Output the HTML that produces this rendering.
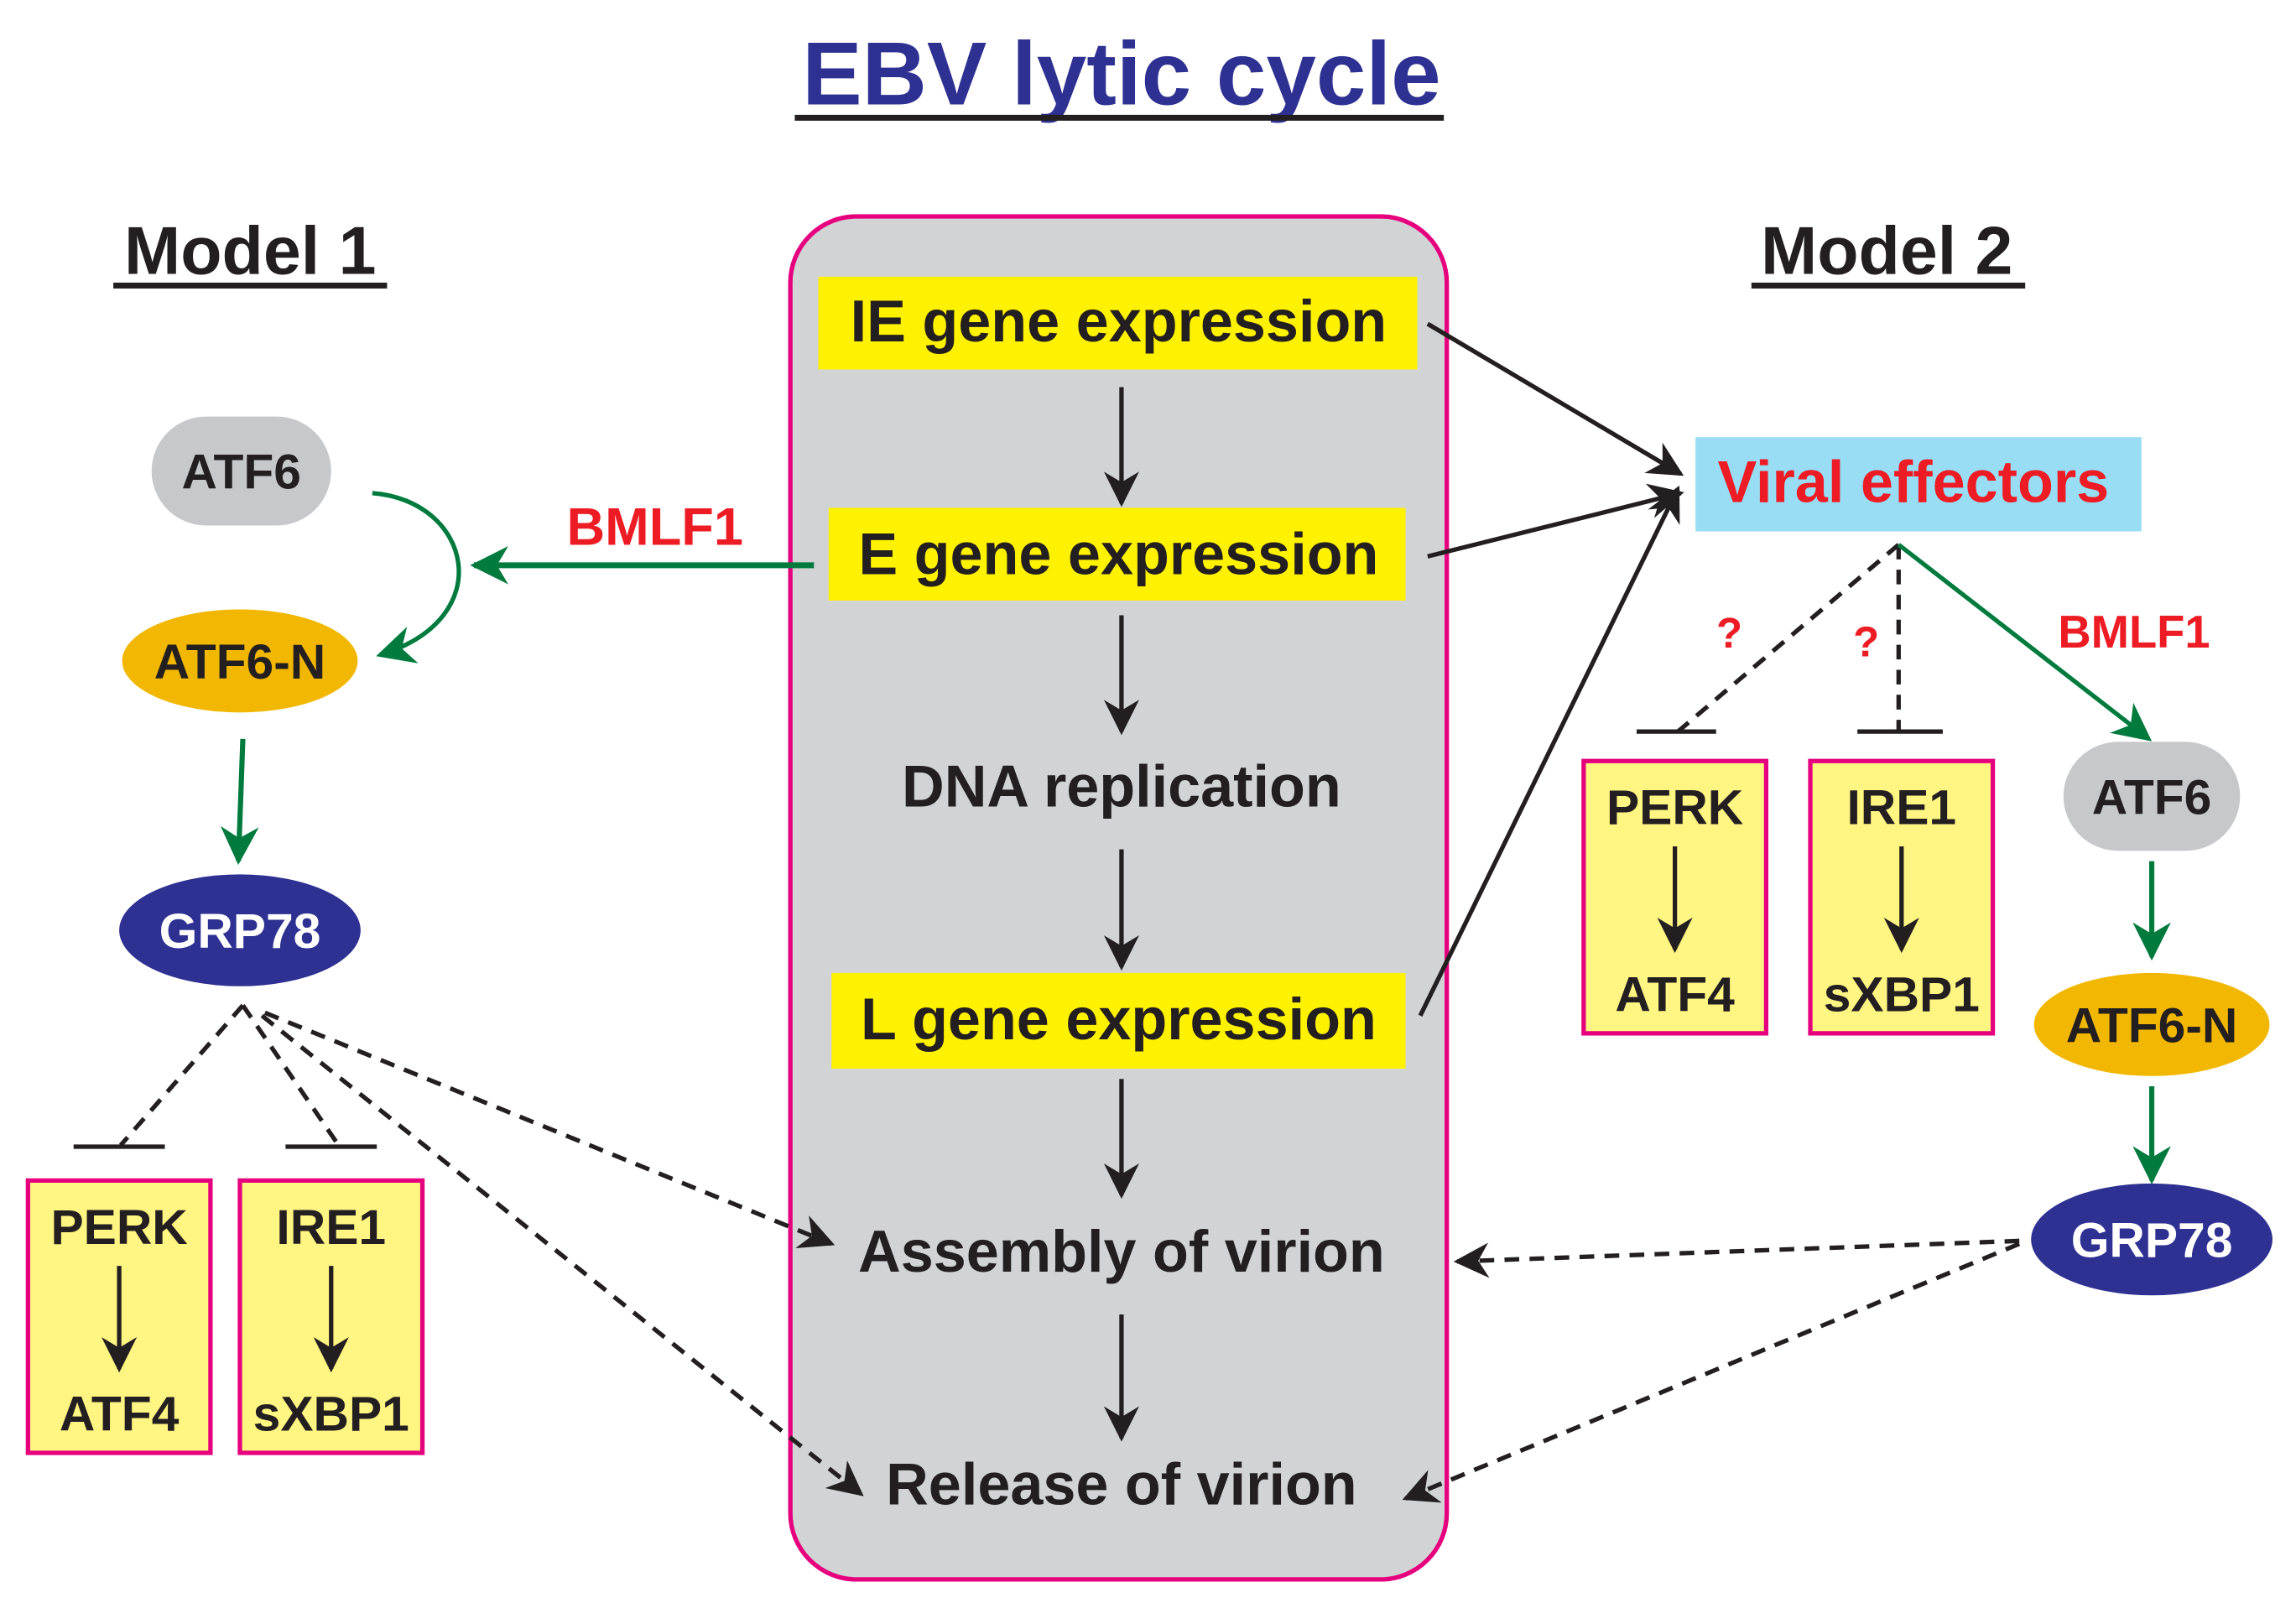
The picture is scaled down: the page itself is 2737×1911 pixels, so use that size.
<!DOCTYPE html>
<html><head><meta charset="utf-8"><style>
html,body{margin:0;padding:0;background:#fff;}
svg{display:block;}
text{font-family:"Liberation Sans",Arial,sans-serif;font-weight:bold;}
</style></head><body>
<svg width="2737" height="1911" viewBox="0 0 1560 1089" preserveAspectRatio="none" xmlns="http://www.w3.org/2000/svg">
<defs>
<marker id="abk" viewBox="0 0 10 10" refX="9" refY="5" markerWidth="28" markerHeight="24" markerUnits="userSpaceOnUse" orient="auto"><path d="M0,0 L10,5 L0,10 L3,5 z" fill="#231f20"/></marker>
<marker id="ag" viewBox="0 0 10 10" refX="9" refY="5" markerWidth="30" markerHeight="26" markerUnits="userSpaceOnUse" orient="auto"><path d="M0,0 L10,5 L0,10 L3,5 z" fill="#007a3d"/></marker>
</defs>
<text x="762" y="71" font-size="61" fill="#2e3192" text-anchor="middle">EBV lytic cycle</text>
<rect x="540" y="78" width="441" height="4" fill="#231f20"/>
<text x="170" y="186" font-size="46" fill="#231f20" text-anchor="middle">Model 1</text>
<rect x="77" y="192" width="186" height="4" fill="#231f20"/>
<text x="1282" y="186" font-size="46" fill="#231f20" text-anchor="middle">Model 2</text>
<rect x="1190" y="192" width="186" height="4" fill="#231f20"/>

<rect x="537" y="147" width="446" height="926" rx="45" fill="#d1d3d4" stroke="#e6007e" stroke-width="3"/>
<rect x="556" y="188" width="407" height="63" fill="#fff200"/>
<text x="760" y="232" font-size="40" fill="#231f20" text-anchor="middle">IE gene expression</text>
<rect x="563" y="345" width="392" height="63" fill="#fff200"/>
<text x="760" y="390" font-size="40" fill="#231f20" text-anchor="middle">E gene expression</text>
<text x="762" y="548" font-size="40" fill="#231f20" text-anchor="middle">DNA replication</text>
<rect x="565" y="661" width="390" height="65" fill="#fff200"/>
<text x="760" y="706" font-size="40" fill="#231f20" text-anchor="middle">L gene expression</text>
<text x="762" y="864" font-size="40" fill="#231f20" text-anchor="middle">Assembly of virion</text>
<text x="762" y="1022" font-size="40" fill="#231f20" text-anchor="middle">Release of virion</text>
<g stroke="#231f20" stroke-width="3" marker-end="url(#abk)">
<line x1="762" y1="263" x2="762" y2="342"/>
<line x1="762" y1="418" x2="762" y2="497"/>
<line x1="762" y1="577" x2="762" y2="657"/>
<line x1="762" y1="733" x2="762" y2="812"/>
<line x1="762" y1="893" x2="762" y2="977"/>
</g>

<rect x="1152" y="297" width="303" height="64" fill="#99ddf5"/>
<text x="1300" y="341" font-size="40" fill="#ed1c24" text-anchor="middle">Viral effectors</text>
<g stroke="#231f20" stroke-width="3" marker-end="url(#abk)">
<line x1="970" y1="220" x2="1142" y2="322"/>
<line x1="970" y1="378" x2="1142" y2="335"/>
<line x1="965" y1="690" x2="1140" y2="332"/>
</g>

<rect x="103" y="283" width="122" height="74" rx="37" fill="#c7c8ca"/>
<text x="164" y="332" font-size="33.5" fill="#231f20" text-anchor="middle">ATF6</text>
<path d="M253,335 C320,340 340,420 258,445" fill="none" stroke="#007a3d" stroke-width="3" marker-end="url(#ag)"/>
<line x1="553" y1="384" x2="322" y2="384" stroke="#007a3d" stroke-width="4" marker-end="url(#ag)"/>
<text x="445" y="370" font-size="36" fill="#ed1c24" text-anchor="middle">BMLF1</text>
<ellipse cx="163" cy="449" rx="80" ry="35" fill="#f2b700"/>
<text x="163" y="461" font-size="33.5" fill="#231f20" text-anchor="middle">ATF6-N</text>
<line x1="165" y1="502" x2="162" y2="585" stroke="#007a3d" stroke-width="3.5" marker-end="url(#ag)"/>
<ellipse cx="163" cy="632" rx="82" ry="38" fill="#2e3192"/>
<text x="163" y="644" font-size="33.5" fill="#fff" text-anchor="middle">GRP78</text>
<g stroke="#231f20" stroke-width="3" stroke-dasharray="10,7" fill="none">
<line x1="165" y1="683" x2="82" y2="778"/>
<line x1="165" y1="683" x2="230" y2="778"/>
<line x1="180" y1="688" x2="565" y2="845" marker-end="url(#abk)"/>
<line x1="178" y1="690" x2="585" y2="1015" marker-end="url(#abk)"/>
</g>
<line x1="50" y1="779" x2="112" y2="779" stroke="#231f20" stroke-width="3"/>
<line x1="194" y1="779" x2="256" y2="779" stroke="#231f20" stroke-width="3"/>
<rect x="19" y="802" width="124" height="185" fill="#fff583" stroke="#e6007e" stroke-width="3"/>
<text x="81" y="845" font-size="33.5" fill="#231f20" text-anchor="middle">PERK</text>
<line x1="81" y1="860" x2="81" y2="930" stroke="#231f20" stroke-width="3" marker-end="url(#abk)"/>
<text x="81" y="972" font-size="33.5" fill="#231f20" text-anchor="middle">ATF4</text>
<rect x="163" y="802" width="124" height="185" fill="#fff583" stroke="#e6007e" stroke-width="3"/>
<text x="225" y="845" font-size="33.5" fill="#231f20" text-anchor="middle">IRE1</text>
<line x1="225" y1="860" x2="225" y2="930" stroke="#231f20" stroke-width="3" marker-end="url(#abk)"/>
<text x="225" y="972" font-size="33.5" fill="#231f20" text-anchor="middle">sXBP1</text>

<g stroke="#231f20" stroke-width="3" stroke-dasharray="10,7" fill="none">
<line x1="1290" y1="370" x2="1140" y2="497"/>
<line x1="1290" y1="370" x2="1290" y2="497"/>
<line x1="1372" y1="843" x2="990" y2="857" marker-end="url(#abk)"/>
<line x1="1372" y1="845" x2="955" y2="1018" marker-end="url(#abk)"/>
</g>
<line x1="1112" y1="497" x2="1166" y2="497" stroke="#231f20" stroke-width="3"/>
<line x1="1262" y1="497" x2="1320" y2="497" stroke="#231f20" stroke-width="3"/>
<text x="1175" y="440" font-size="29" fill="#ed1c24" text-anchor="middle">?</text>
<text x="1268" y="446" font-size="29" fill="#ed1c24" text-anchor="middle">?</text>
<line x1="1290" y1="370" x2="1460" y2="502" stroke="#007a3d" stroke-width="3" marker-end="url(#ag)"/>
<text x="1450" y="440" font-size="31" fill="#ed1c24" text-anchor="middle">BMLF1</text>
<rect x="1076" y="517" width="124" height="185" fill="#fff583" stroke="#e6007e" stroke-width="3"/>
<text x="1138" y="560" font-size="33.5" fill="#231f20" text-anchor="middle">PERK</text>
<line x1="1138" y1="575" x2="1138" y2="645" stroke="#231f20" stroke-width="3" marker-end="url(#abk)"/>
<text x="1138" y="687" font-size="33.5" fill="#231f20" text-anchor="middle">ATF4</text>
<rect x="1230" y="517" width="124" height="185" fill="#fff583" stroke="#e6007e" stroke-width="3"/>
<text x="1292" y="560" font-size="33.5" fill="#231f20" text-anchor="middle">IRE1</text>
<line x1="1292" y1="575" x2="1292" y2="645" stroke="#231f20" stroke-width="3" marker-end="url(#abk)"/>
<text x="1292" y="687" font-size="33.5" fill="#231f20" text-anchor="middle">sXBP1</text>
<rect x="1402" y="504" width="120" height="74" rx="37" fill="#c7c8ca"/>
<text x="1462" y="553" font-size="33.5" fill="#231f20" text-anchor="middle">ATF6</text>
<line x1="1462" y1="585" x2="1462" y2="650" stroke="#007a3d" stroke-width="3.5" marker-end="url(#ag)"/>
<ellipse cx="1462" cy="696" rx="80" ry="35" fill="#f2b700"/>
<text x="1462" y="708" font-size="33.5" fill="#231f20" text-anchor="middle">ATF6-N</text>
<line x1="1462" y1="738" x2="1462" y2="802" stroke="#007a3d" stroke-width="3.5" marker-end="url(#ag)"/>
<ellipse cx="1462" cy="842" rx="82" ry="38" fill="#2e3192"/>
<text x="1462" y="854" font-size="33.5" fill="#fff" text-anchor="middle">GRP78</text>
</svg>
</body></html>
